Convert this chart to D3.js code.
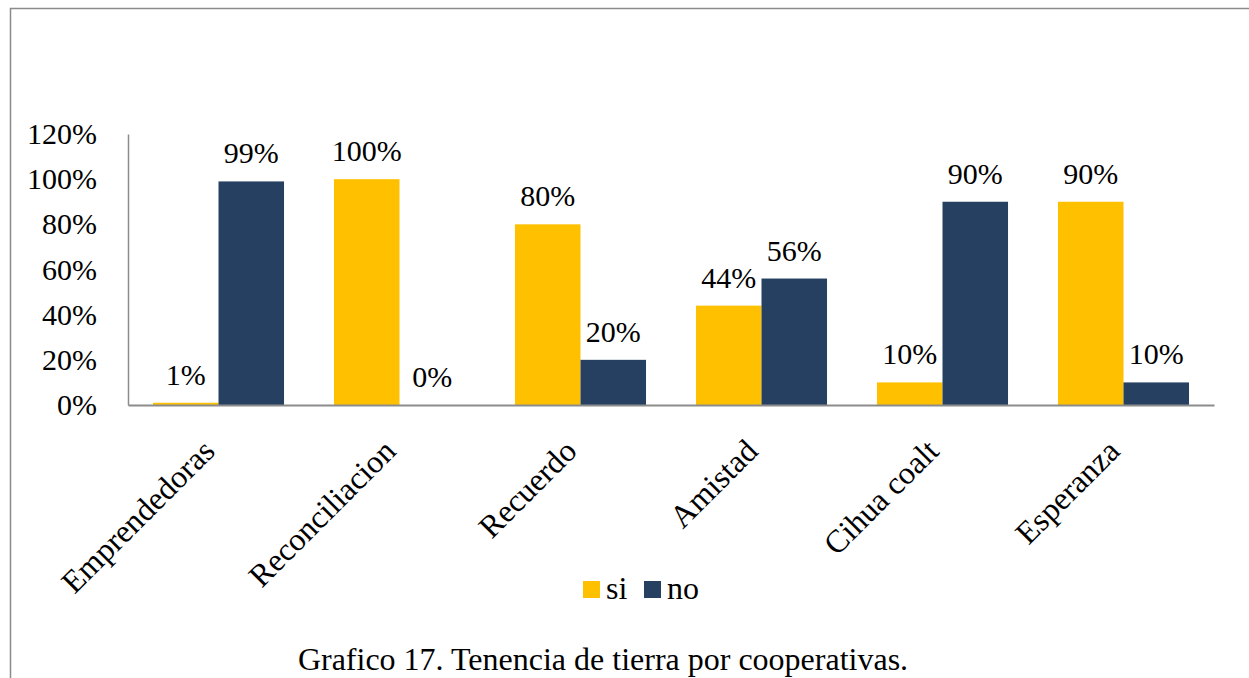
<!DOCTYPE html>
<html>
<head>
<meta charset="utf-8">
<script src="https://cdn.jsdelivr.net/npm/d3@7"></script>
<style>
  html, body { margin: 0; padding: 0; background: #fff; }
  svg { display: block; }
</style>
</head>
<body>
<div id="chart"></div>
<script>
// Tenencia de tierra por cooperativas
const categories = ["Emprendedoras", "Reconciliacion", "Recuerdo", "Amistad", "Cihua coalt", "Esperanza"];
const seriesNames = ["si", "no"];
const siValues = [0.01, 1.00, 0.80, 0.44, 0.10, 0.90];
const noValues = [0.99, 0.00, 0.20, 0.56, 0.90, 0.10];
const yTicks = [0, 0.2, 0.4, 0.6, 0.8, 1.0, 1.2];
const colors = { si: "#FFC000", no: "#264061" };

const width = 1249, height = 678;
const font = "'Liberation Serif', 'Times New Roman', serif";
const margin = { top: 134, right: 35, bottom: 273, left: 128 };

const svg = d3.select("#chart")
    .append("svg")
    .attr("width", width)
    .attr("height", height);

// outer frame (only top and left edges visible)
svg.append("path")
    .attr("d", `M10.5,${height} V8.5 H${width}`)
    .attr("fill", "none")
    .attr("stroke", "#8a8a8a")
    .attr("stroke-width", 1.5);

const x0 = d3.scaleBand()
    .domain(categories)
    .range([margin.left, width - margin.right])
    .paddingInner(0.276)
    .paddingOuter(0.138);

const x1 = d3.scaleBand()
    .domain(seriesNames)
    .range([0, x0.bandwidth()]);

const y = d3.scaleLinear()
    .domain([0, 1.2])
    .range([height - margin.bottom, margin.top]);

const rows = categories.map((c, i) => ({ cat: c, si: siValues[i], no: noValues[i] }));

// bars
const groups = svg.append("g")
    .selectAll("g")
    .data(rows)
    .join("g")
    .attr("transform", d => `translate(${x0(d.cat)},0)`);

groups.selectAll("rect")
    .data(d => seriesNames.map(k => ({ key: k, value: d[k] })))
    .join("rect")
    .attr("x", d => x1(d.key))
    .attr("y", d => y(d.value))
    .attr("width", x1.bandwidth())
    .attr("height", d => y(0) - y(d.value))
    .attr("fill", d => colors[d.key]);

groups.selectAll("text")
    .data(d => seriesNames.map(k => ({ key: k, value: d[k] })))
    .join("text")
    .attr("x", d => x1(d.key) + x1.bandwidth() / 2)
    .attr("y", d => y(d.value) - 18)
    .attr("text-anchor", "middle")
    .attr("font-family", font)
    .attr("font-size", "30px")
    .attr("fill", "#000")
    .text(d => Math.round(d.value * 100) + "%");

// y axis
const yAxis = svg.append("g")
    .attr("transform", `translate(${margin.left},0)`)
    .call(d3.axisLeft(y).tickValues(yTicks).tickSize(0).tickPadding(31)
        .tickFormat(d => Math.round(d * 100) + "%"));
yAxis.select(".domain").attr("stroke", "#8c8c8c").attr("stroke-width", 1.5);
yAxis.selectAll("text")
    .attr("font-family", font)
    .attr("font-size", "30px")
    .attr("fill", "#000");

// x axis
const xAxis = svg.append("g")
    .attr("transform", `translate(0,${y(0)})`)
    .call(d3.axisBottom(x0).tickSize(0).tickPadding(0));
xAxis.select(".domain").attr("stroke", "#8c8c8c").attr("stroke-width", 2);
xAxis.selectAll("text")
    .attr("font-family", font)
    .attr("font-size", "32px")
    .attr("fill", "#000")
    .attr("text-anchor", "end")
    .attr("dy", 0)
    .attr("transform", "translate(-2,48) rotate(-45)");

// legend
const legend = svg.append("g")
    .attr("transform", "translate(583,581)");
const legendItems = legend.selectAll("g")
    .data(seriesNames)
    .join("g")
    .attr("transform", (d, i) => `translate(${i * 61},0)`);
legendItems.append("rect")
    .attr("width", 17)
    .attr("height", 17)
    .attr("fill", d => colors[d]);
legendItems.append("text")
    .attr("x", 23)
    .attr("y", 18)
    .attr("font-family", font)
    .attr("font-size", "32px")
    .attr("fill", "#000")
    .text(d => d);

// caption
svg.append("text")
    .attr("x", 603)
    .attr("y", 670)
    .attr("text-anchor", "middle")
    .attr("font-family", font)
    .attr("font-size", "32px")
    .attr("fill", "#000")
    .text("Grafico 17. Tenencia de tierra por cooperativas.");
</script>
</body>
</html>
